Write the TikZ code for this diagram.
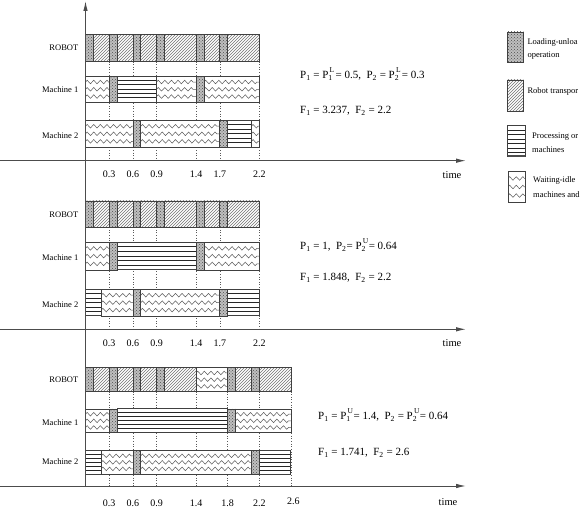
\documentclass[tikz,border=0pt]{standalone}
\usepackage{fontspec}
\setmainfont{Liberation Serif}
\usetikzlibrary{patterns,decorations.pathmorphing,arrows.meta}

\tikzset{
 segline/.style={draw=black!75, line width=0.7pt},
 axisline/.style={draw=black!70, line width=1pt},
 tickdot/.style={draw=black!65, dotted, line width=0.6pt},
 wave/.style={draw=black!65, line width=0.5pt, decorate, decoration={zigzag, segment length=6.6pt, amplitude=1.8pt}},
 procline/.style={draw=black!85, line width=1pt},
 lbl/.style={font=\fontsize{8.5}{10}\selectfont, anchor=east, inner sep=0pt},
 ticklbl/.style={font=\fontsize{10}{12}\selectfont, inner sep=0pt},
 timelbl/.style={font=\fontsize{10.5}{12}\selectfont, inner sep=0pt},
 eq/.style={font=\fontsize{11}{13}\selectfont, anchor=west, inner sep=0pt},
 leg/.style={font=\fontsize{8.5}{10}\selectfont, anchor=west, inner sep=0pt},
}

\newcommand{\segL}[4]{%
 \fill[gray!50] (#1,#3) rectangle (#2,#4);
 \fill[pattern=crosshatch dots, pattern color=black!70] (#1,#3) rectangle (#2,#4);
 \draw[segline] (#1,#3) rectangle (#2,#4);}
\newcommand{\segT}[4]{%
 \fill[white] (#1,#3) rectangle (#2,#4);
 \fill[pattern=north east lines, pattern color=black!55] (#1,#3) rectangle (#2,#4);
 \draw[segline] (#1,#3) rectangle (#2,#4);}
\newcommand{\segP}[4]{%
 \fill[white] (#1,#3) rectangle (#2,#4);
 \foreach \f in {1,...,5}{\draw[procline] (#1,{#3+(#4-#3)*\f/6}) -- (#2,{#3+(#4-#3)*\f/6});}
 \draw[segline, line width=1pt] (#1,#3) rectangle (#2,#4);}
\newcommand{\segW}[4]{%
 \fill[white] (#1,#3) rectangle (#2,#4);
 \begin{scope}
  \clip (#1,#3) rectangle (#2,#4);
  \foreach \f in {0.22,0.5,0.78}{\draw[wave] (#1,{#3+(#4-#3)*\f}) -- (#2,{#3+(#4-#3)*\f});}
 \end{scope}
 \draw[segline] (#1,#3) rectangle (#2,#4);}
\newcommand{\gbar}[3]{\foreach \a/\b/\k in {#3}{\csname seg\k\endcsname{\a}{\b}{#1}{#2}}}
\newcommand{\PP}[2]{P\rlap{\raisebox{6pt}{\fontsize{7.5}{8}\selectfont\,#2}}\textsubscript{#1}}
\newcommand{\Ps}[1]{P\textsubscript{#1}}
\newcommand{\Fs}[1]{F\textsubscript{#1}}

\begin{document}
\begin{tikzpicture}[x=1pt,y=-1pt]
\useasboundingbox (0,0) rectangle (581,510);
\clip (0,0) rectangle (581,510);

\begin{scope}[xshift=85.5pt, x=79pt]
 % ---------- top chart
 \foreach \t in {0.3,0.6,0.9,1.4,1.7,2.2}{\draw[tickdot] (\t,61.7) -- (\t,160.7);}
 \gbar{34.3}{61.7}{0/0.1/L,0.1/0.3/T,0.3/0.4/L,0.4/0.6/T,0.6/0.7/L,0.7/0.9/T,0.9/1.0/L,1.0/1.4/T,1.4/1.5/L,1.5/1.7/T,1.7/1.8/L,1.8/2.2/T}
 \gbar{76.3}{102.3}{0/0.3/W,0.3/0.4/L,0.4/0.9/P,0.9/1.4/W,1.4/1.5/L,1.5/2.2/W}
 \gbar{120.3}{147.3}{0/0.6/W,0.6/0.7/L,0.7/1.7/W,1.7/1.8/L,1.8/2.1/P,2.1/2.2/W}
 \foreach \t [count=\i] in {0.3,0.6,0.9,1.4,1.7,2.2}{\node[ticklbl] (ta\i) at (\t,174) {\t};}
 % ---------- middle chart
 \foreach \t in {0.3,0.6,0.9,1.4,1.7,2.2}{\draw[tickdot] (\t,227.3) -- (\t,329.3);}
 \gbar{201}{227.3}{0/0.1/L,0.1/0.3/T,0.3/0.4/L,0.4/0.6/T,0.6/0.7/L,0.7/0.9/T,0.9/1.0/L,1.0/1.4/T,1.4/1.5/L,1.5/1.7/T,1.7/1.8/L,1.8/2.2/T}
 \gbar{242.3}{270}{0/0.3/W,0.3/0.4/L,0.4/1.4/P,1.4/1.5/L,1.5/2.2/W}
 \gbar{289.3}{316}{0/0.2/P,0.2/0.6/W,0.6/0.7/L,0.7/1.7/W,1.7/1.8/L,1.8/2.2/P}
 \foreach \t [count=\i] in {0.3,0.6,0.9,1.4,1.7,2.2}{\node[ticklbl] (tb\i) at (\t,343) {\t};}
 % ---------- bottom chart
 \foreach \t in {0.3,0.6,0.9,1.4,1.8,2.2,2.6}{\draw[tickdot] (\t,391.7) -- (\t,486);}
 \gbar{367.7}{391.7}{0/0.1/L,0.1/0.3/T,0.3/0.4/L,0.4/0.6/T,0.6/0.7/L,0.7/0.9/T,0.9/1.0/L,1.0/1.4/T,1.4/1.8/W,1.8/1.9/L,1.9/2.1/T,2.1/2.2/L,2.2/2.6/T}
 \gbar{409}{432.7}{0/0.3/W,0.3/0.4/L,0.4/1.8/P,1.8/1.9/L,1.9/2.6/W}
 \gbar{450.7}{474}{0/0.2/P,0.2/0.6/W,0.6/0.7/L,0.7/2.1/W,2.1/2.2/L,2.2/2.6/P}
 \foreach \t [count=\i] in {0.3,0.6,0.9,1.4,1.8,2.2}{\node[ticklbl] (tc\i) at (\t,503) {\t};}
 \node[ticklbl] (tc7) at (2.63,501) {2.6};
\end{scope}

% axes
\coordinate (vb) at (85.5,486);
\coordinate (vt) at (85.5,1);
\draw[axisline, -{Latex[length=10pt,width=4.5pt]}] (vb) -- (vt);
\foreach \y/\n in {160.7/a,329.3/b,486/c}{
 \coordinate (h\n0) at (0,\y);
 \coordinate (h\n1) at (466,\y);
 \draw[axisline, -{Latex[length=10pt,width=4.5pt]}] (h\n0) -- (h\n1);
}
\node[timelbl] (timeA) at (452,175) {time};
\node[timelbl] (timeB) at (452,343) {time};
\node[timelbl] (timeC) at (448,502) {time};

% row labels
\node[lbl] (rA) at (78.5,48) {ROBOT};
\node[lbl] (m1A) at (78.5,90) {Machine 1};
\node[lbl] (m2A) at (78.5,136) {Machine 2};
\node[lbl] (rB) at (78.5,215) {ROBOT};
\node[lbl] (m1B) at (78.5,257.5) {Machine 1};
\node[lbl] (m2B) at (78.5,305) {Machine 2};
\node[lbl] (rC) at (78.5,380) {ROBOT};
\node[lbl] (m1C) at (78.5,423) {Machine 1};
\node[lbl] (m2C) at (78.5,462) {Machine 2};

% equations
\node[eq] (pA) at (300,74) {\Ps{1} = \PP{1}{L} = 0.5,\ \ \Ps{2} = \PP{2}{L} = 0.3};
\node[eq] (fA) at (300,111) {\Fs{1} = 3.237,\ \ \Fs{2} = 2.2};
\node[eq] (pB) at (300,245) {\Ps{1} = 1,\ \ \Ps{2}= \PP{2}{U} = 0.64};
\node[eq] (fB) at (300,278) {\Fs{1} = 1.848,\ \ \Fs{2} = 2.2};
\node[eq] (pC) at (318,415) {\Ps{1} = \PP{1}{U} = 1.4,\ \ \Ps{2} = \PP{2}{U} = 0.64};
\node[eq] (fC) at (318,453) {\Fs{1} = 1.741,\ \ \Fs{2} = 2.6};

% legend
\segL{507.7}{523.3}{32}{62.7}
\segT{507.7}{523.3}{80}{111}
\fill[white] (507.7,126) rectangle (525,157);
\foreach \f in {1,...,6}{\draw[procline] (507.7,{126+31*\f/7}) -- (525,{126+31*\f/7});}
\draw[segline, line width=1pt] (507.7,126) rectangle (525,157);
\draw[draw=black!70, line width=1.5pt] (507.7,156.2) -- (525,156.2);
\segW{508}{525}{171.7}{202.3}
\node[leg] (lg1) at (527.3,42) {Loading-unloa};
\node[leg] (lg1b) at (527.3,56) {operation};
\node[leg] (lg2) at (527.3,91) {Robot transpor};
\node[leg] (lg3) at (532,137) {Processing or};
\node[leg] (lg3b) at (532,150) {machines};
\node[leg] (lg4) at (533,180) {Waiting-idle};
\node[leg] (lg4b) at (533,195) {machines and};
\end{tikzpicture}
\end{document}
